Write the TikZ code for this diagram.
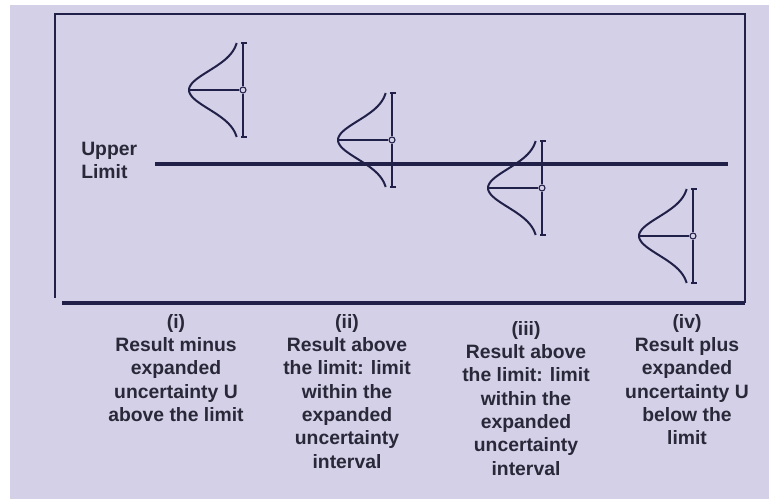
\documentclass[tikz,border=0pt]{standalone}
\usepackage{fontspec}
\setmainfont{Liberation Sans}

\definecolor{lavendel}{RGB}{211,208,231}
\definecolor{tinte}{RGB}{32,32,72}
\definecolor{schrift}{RGB}{40,40,56}

\tikzset{
    rahmen/.style={draw=tinte, line width=1.1pt},
    dick/.style={draw=tinte, line width=2.3pt},
    kurve/.style={draw=tinte, line width=1.5pt},
    achse/.style={draw=tinte, line width=0.9pt},
    mitte/.style={circle, draw=tinte, line width=0.8pt, inner sep=0pt, minimum size=4.5pt},
    beschrift/.style={text=schrift, font=\bfseries\fontsize{14.5}{17.5}\selectfont, align=center, inner sep=0pt}
}

\begin{document}
\begin{tikzpicture}[x=0.75pt, y=-0.75pt]
    \useasboundingbox (0,0) rectangle (769,499);
    \fill[white] (0,0) rectangle (769,499);
    \fill[lavendel] (10,5) rectangle (769,499);

    % box
    \path coordinate (LO) at (55,14)
        coordinate (RO) at (745,14)
        coordinate (LU) at (55,298)
        coordinate (AU) at (62,303)
        coordinate (RU) at (745,303)
        coordinate (GA) at (155,164)
        coordinate (GE) at (728,164);
    \draw[rahmen] (LU) -- (LO) -- (RO) -- (RU);
    \draw[dick] (AU) -- (RU);
    \draw[dick] (GA) -- (GE);
    \node[beschrift, align=left, anchor=north west] (UL) at (81,142) {Upper\\Limit};

    % bells
    \foreach \px/\c/\n in {243/90/i, 392/140/ii, 542/188/iii, 693/236/iv} {
        \path coordinate (top-\n) at (\px,\c-47)
            coordinate (bot-\n) at (\px,\c+47)
            coordinate (spitze-\n) at (\px-54,\c)
            node[mitte] (M-\n) at (\px,\c) {};
        \draw[achse] (top-\n) -- (M-\n) -- (bot-\n);
        \draw[achse] ([xshift=-1.5pt]top-\n) -- ([xshift=3pt]top-\n);
        \draw[achse] ([xshift=-1.5pt]bot-\n) -- ([xshift=3pt]bot-\n);
        \draw[achse] (spitze-\n) -- (M-\n);
        \draw[kurve] plot[variable=\t, domain=-47:47, samples=50, smooth]
            ({\px-4-50*exp(-(\t*\t)/722)}, {\c+\t});
    }

    % labels
    \path node[beschrift, anchor=north] (Li) at (176,314)
            {(i)\\Result minus\\expanded\\uncertainty U\\above the limit}
        node[beschrift, anchor=north] (Lii) at (347,314)
            {(ii)\\Result above\\the limit: limit\\within the\\expanded\\uncertainty\\interval}
        node[beschrift, anchor=north] (Liii) at (526,321)
            {(iii)\\Result above\\the limit: limit\\within the\\expanded\\uncertainty\\interval}
        node[beschrift, anchor=north] (Liv) at (687,314)
            {(iv)\\Result plus\\expanded\\uncertainty U\\below the\\limit};
\end{tikzpicture}
\end{document}
